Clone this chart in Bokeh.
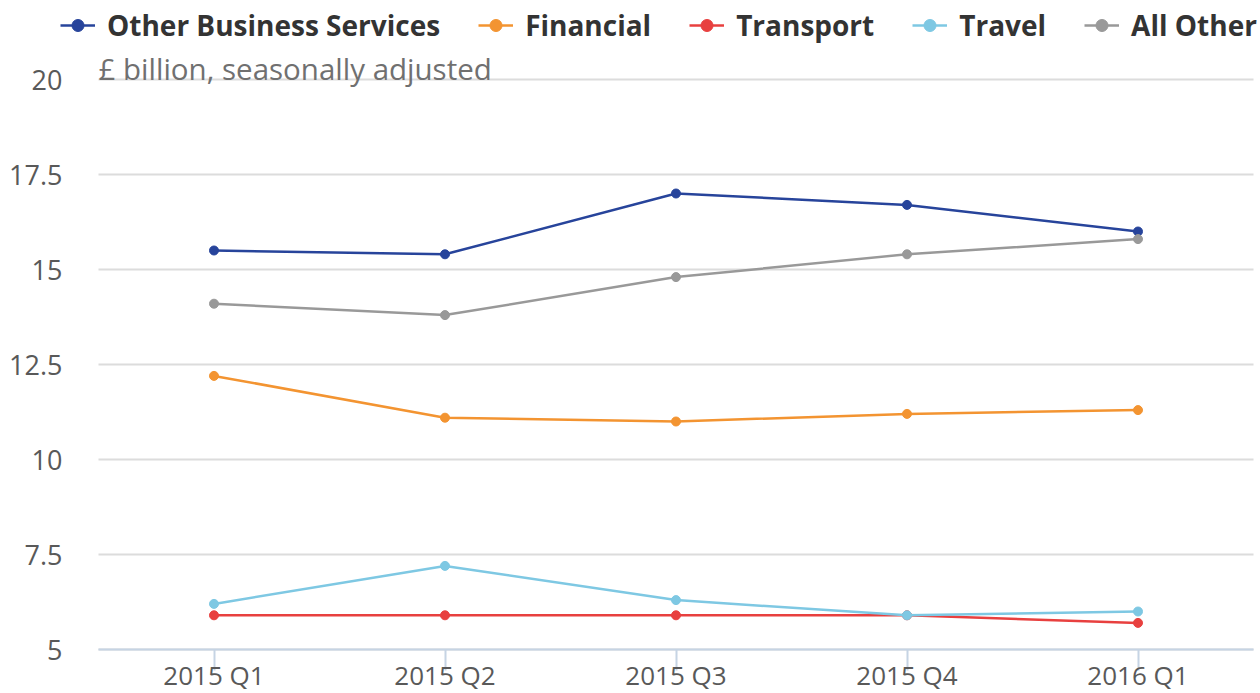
from bokeh.plotting import figure
from bokeh.models import Range1d, FixedTicker, Legend, LegendItem, Label
from bokeh.embed import file_html
from bokeh.resources import INLINE

quarters = ["2015 Q1", "2015 Q2", "2015 Q3", "2015 Q4", "2016 Q1"]
other_business = [15.5, 15.4, 17.0, 16.7, 16.0]
financial = [12.2, 11.1, 11.0, 11.2, 11.3]
transport = [5.9, 5.9, 5.9, 5.9, 5.7]
travel = [6.2, 7.2, 6.3, 5.9, 6.0]
all_other = [14.1, 13.8, 14.8, 15.4, 15.8]
y_ticks = [5, 7.5, 10, 12.5, 15, 17.5, 20]
y_tick_labels = ["5", "7.5", "10", "12.5", "15", "17.5", "20"]
subtitle = "£ billion, seasonally adjusted"

series = [
    ("Other Business Services", other_business, "#27449b"),
    ("Financial", financial, "#f39431"),
    ("Transport", transport, "#e8403f"),
    ("Travel", travel, "#7ec8e3"),
    ("All Other", all_other, "#999999"),
]

FONT = "Open Sans"
xs = list(range(len(quarters)))

# plotted area: x -0.5..4.5 (231 px per step), y 5..20 (38 px per unit);
# the frame is extended to the whole canvas so legend / labels are not clipped
X_LO, X_HI = -0.5, len(quarters) - 0.5
X_MIN, X_MAX = X_LO - 98 / 231, X_HI + 7 / 231
Y_LO, Y_HI = 5, 20
Y_MIN, Y_MAX = Y_LO - 44 / 38, Y_HI + 79 / 38

p = figure(width=1260, height=693, output_backend="svg", toolbar_location=None,
           x_range=Range1d(X_MIN, X_MAX), y_range=Range1d(Y_MIN, Y_MAX),
           min_border_left=0, min_border_right=0, min_border_top=0, min_border_bottom=0)
p.outline_line_color = None
p.background_fill_color = "white"
p.border_fill_color = "white"
p.xgrid.grid_line_color = None
p.ygrid.grid_line_color = None

# horizontal grid lines across the plotted area only
p.segment(x0=[X_LO] * len(y_ticks), x1=[X_HI] * len(y_ticks), y0=y_ticks, y1=y_ticks,
          line_color="#dcdcdc", line_width=2)

# x axis fixed at y=5
p.xaxis.fixed_location = Y_LO
p.xaxis.bounds = (X_LO, X_HI)
p.xaxis.ticker = FixedTicker(ticks=xs)
p.xaxis.major_label_overrides = {i: q for i, q in enumerate(quarters)}
p.xaxis.axis_line_color = "#c6d4e4"
p.xaxis.axis_line_width = 2
p.xaxis.major_tick_line_color = "#c6d4e4"
p.xaxis.major_tick_line_width = 2
p.xaxis.major_tick_in = 0
p.xaxis.major_tick_out = 21
p.xaxis.minor_tick_line_color = None
p.xaxis.major_label_standoff = -14
p.xaxis.major_label_text_font = FONT
p.xaxis.major_label_text_font_size = "26px"
p.xaxis.major_label_text_color = "#595959"

# y axis fixed at left edge of plotted area
p.yaxis.fixed_location = X_LO
p.yaxis.ticker = FixedTicker(ticks=y_ticks)
p.yaxis.major_label_overrides = {t: l for t, l in zip(y_ticks, y_tick_labels)}
p.yaxis.axis_line_color = None
p.yaxis.major_tick_line_color = None
p.yaxis.minor_tick_line_color = None
p.yaxis.major_tick_in = 0
p.yaxis.major_tick_out = 0
p.yaxis.major_label_standoff = 36
p.yaxis.major_label_text_font = FONT
p.yaxis.major_label_text_font_size = "27px"
p.yaxis.major_label_text_color = "#595959"

items = []
for name, vals, color in series:
    r1 = p.line(xs, vals, line_color=color, line_width=2.5)
    r2 = p.scatter(xs, vals, marker="circle", size=9, fill_color=color, line_color=color)
    items.append(LegendItem(label=name, renderers=[r1, r2]))

legend = Legend(items=items, orientation="horizontal", location=(60, 649),
                glyph_width=35, glyph_height=30, label_height=30, label_standoff=12,
                spacing=38, padding=0, margin=0,
                border_line_color=None, background_fill_alpha=0,
                label_text_font=FONT, label_text_font_style="bold",
                label_text_font_size="28px", label_text_color="#333333")
p.add_layout(legend, "center")

sub = Label(x=X_LO, y=Y_HI, text=subtitle, text_baseline="alphabetic",
            y_offset=11, text_font=FONT, text_font_size="29.5px", text_color="#707070")
p.add_layout(sub)

open("out.html", "w").write(file_html(p, INLINE))
